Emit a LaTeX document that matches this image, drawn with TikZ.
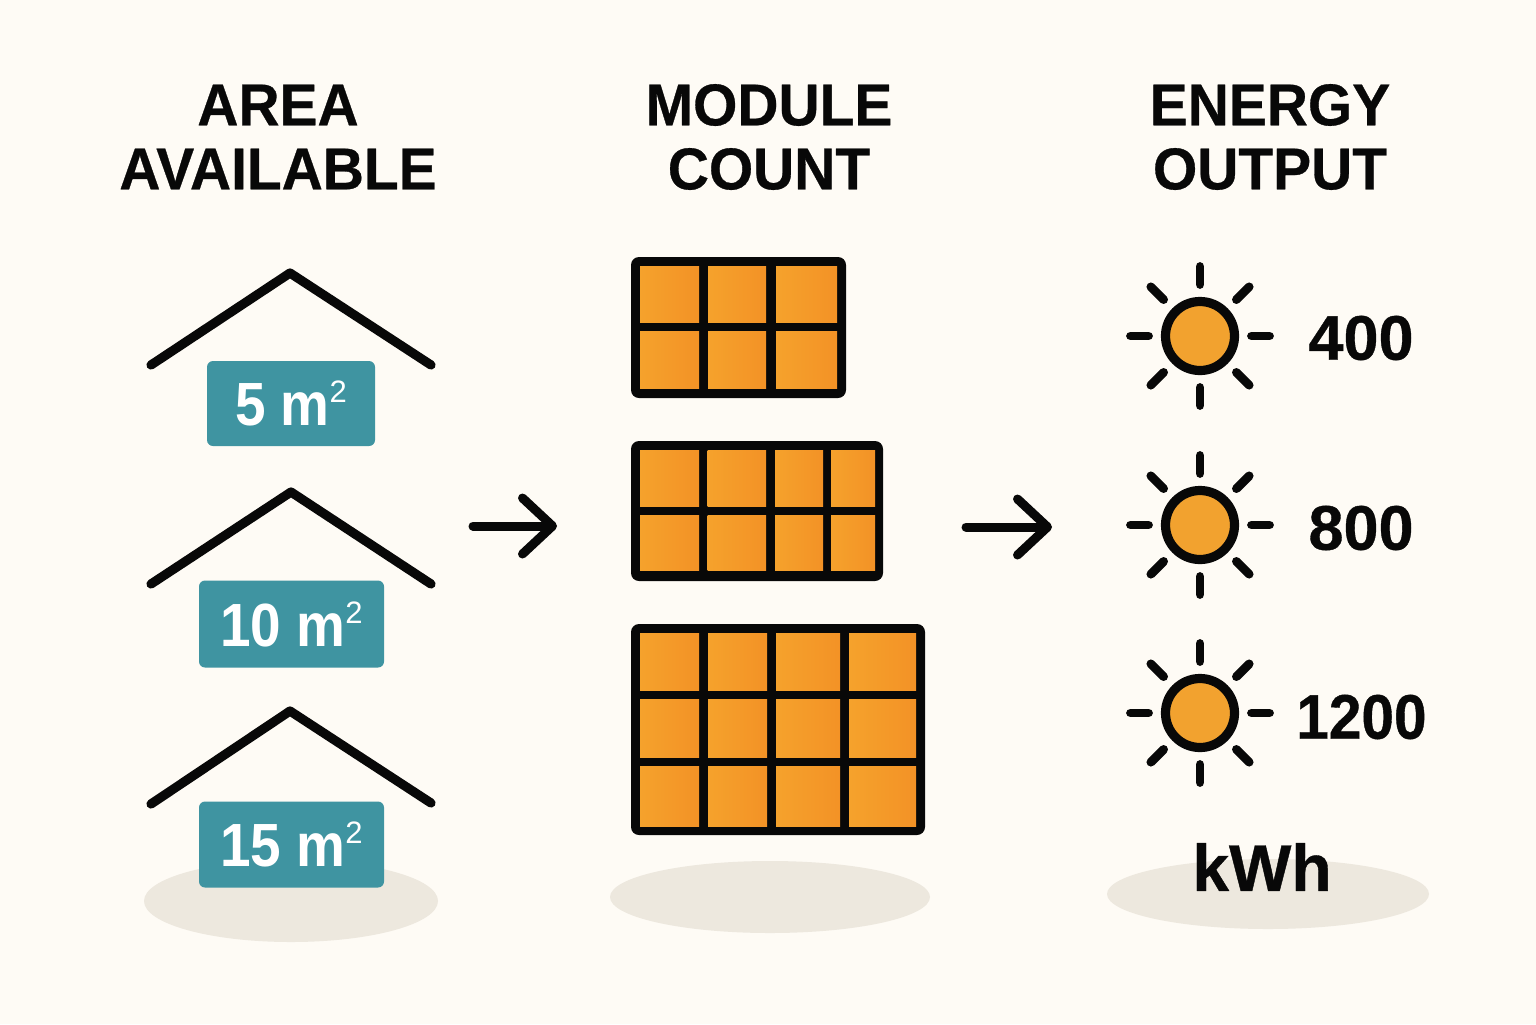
\documentclass[tikz,border=0pt]{standalone}
\usepackage{fontspec}
\setmainfont{Liberation Sans}
\newfontfamily\ttlfont{Liberation Sans}[UprightFont=* Bold,FakeBold=0.5,FakeStretch=0.965]
\newfontfamily\numfont{Liberation Sans}[UprightFont=* Bold,FakeBold=0.6]
\newfontfamily\numnarrow{Liberation Sans}[UprightFont=* Bold,FakeBold=0.6,FakeStretch=0.93]
\newfontfamily\tagfont{Liberation Sans}[UprightFont=* Bold,FakeStretch=0.9]
\newcommand{\sqsup}{\raisebox{11.5pt}{\fontsize{15.5}{16}\selectfont\setmainfont{Liberation Sans}\rmfamily 2}}
\usetikzlibrary{arrows.meta,calc}
\definecolor{bgc}{HTML}{FEFBF5}
\definecolor{teal}{HTML}{3F94A1}
\definecolor{shadowc}{HTML}{EDE8DE}
\definecolor{sunc}{HTML}{F2A22F}
\definecolor{orgL}{HTML}{F5A22C}
\definecolor{orgR}{HTML}{F39226}
\definecolor{ink}{HTML}{080808}
\tikzset{
  x=0.5pt,y=-0.5pt,
  title/.style={font=\ttlfont\fontsize{29.5}{32}\selectfont,text=ink,align=center,inner sep=0pt},
  tag/.style={fill=teal,rounded corners=3pt,text=white,inner sep=0pt,font=\tagfont\fontsize{30.5}{32}\selectfont},
  shade/.style={fill=shadowc,draw=none},
  roof/.style={draw=ink,line width=4.6pt,line cap=round,line join=round},
  frame/.style={fill=ink,draw=none,rounded corners=4pt},
  cell/.style={left color=orgL,right color=orgR,draw=none},
  ray/.style={draw=ink,line width=4.4pt,line cap=round},
  disc/.style={circle,fill=sunc,draw=ink,line width=4.6pt,minimum size=34.5pt,inner sep=0pt},
  val/.style={font=\numfont\fontsize{31.5}{34}\selectfont,text=ink,inner sep=0pt},
  conn/.style={draw=ink,line width=4.5pt,line cap=round,line join=round},
}
\begin{document}
\begin{tikzpicture}
\useasboundingbox (0,0) rectangle (1536,1024);
\fill[bgc] (0,0) rectangle (1536,1024);
% ground shadows
\fill[shade] (291,901) ellipse [x radius=147,y radius=41];
\fill[shade] (770,897) ellipse [x radius=160,y radius=36];
\fill[shade] (1268,894) ellipse [x radius=161,y radius=35];
% titles
\node[title] (t1) at (278,137) {AREA\\AVAILABLE};
\node[title] (t2) at (769,137) {MODULE\\COUNT};
\node[title] (t3) at (1270,137) {ENERGY\\OUTPUT};
% roofs
\coordinate (r1) at (290,273);
\coordinate (r2) at (291,492);
\coordinate (r3) at (290,711);
\draw[roof] (151,365) -- (r1) -- (431,365);
\draw[roof] (151,584) -- (r2) -- (431,584);
\draw[roof] (151,804) -- (r3) -- (431,803);
% tags
\node[tag,minimum width=84pt,minimum height=42.5pt] (a1) at (291,403.5) {5 m\sqsup};
\node[tag,minimum width=92.5pt,minimum height=43.5pt] (a2) at (291.5,624) {10 m\sqsup};
\node[tag,minimum width=92.5pt,minimum height=43pt] (a3) at (291.5,844.5) {15 m\sqsup};
% panel 1
\fill[frame] (631,257) rectangle (846,398);
\foreach \xa/\xb in {640/699,708/766,776/837}
  \foreach \ya/\yb in {266/322,331/388}
    \fill[cell] (\xa,\ya) rectangle (\xb,\yb);
% panel 2
\fill[frame] (631,441) rectangle (883,581);
\foreach \xa/\xb in {640/699,707.5/766,775/823,831/875}
  \foreach \ya/\yb in {450/506,515/570}
    \fill[cell] (\xa,\ya) rectangle (\xb,\yb);
% panel 3
\fill[frame] (631,624) rectangle (925,835);
\foreach \xa/\xb in {640/699,708/767,776/840,849/916}
  \foreach \ya/\yb in {633/690,699.5/757,766/826}
    \fill[cell] (\xa,\ya) rectangle (\xb,\yb);
% suns
\foreach \n/\cy in {s1/336,s2/525,s3/713}{
  \node[disc] (\n) at (1200,\cy) {};
  \foreach \ang in {0,45,...,315}{
    \draw[ray] ($(\n)+(\ang:51.5)$) -- ($(\n)+(\ang:69.5)$);
  }
}
\node[val,anchor=east] (v1) at (1414,338) {400};
\node[val,anchor=east] (v2) at (1414,528) {800};
\node[val,anchor=east,font=\numnarrow\fontsize{31.5}{34}\selectfont] (v3) at (1427,717) {1200};
\node[val,font=\numfont\fontsize{33}{36}\selectfont] (kwh) at (1262,867) {kWh};
% arrows
\coordinate (ar1a) at (473,526);
\coordinate (ar1b) at (557,526);
\coordinate (ar2a) at (966,527);
\coordinate (ar2b) at (1052,527);
\draw[conn,-{Straight Barb[length=15pt,width=28pt,round,line width=4.5pt]}] (ar1a) -- (ar1b);
\draw[conn,-{Straight Barb[length=15pt,width=28pt,round,line width=4.5pt]}] (ar2a) -- (ar2b);
\end{tikzpicture}
\end{document}
